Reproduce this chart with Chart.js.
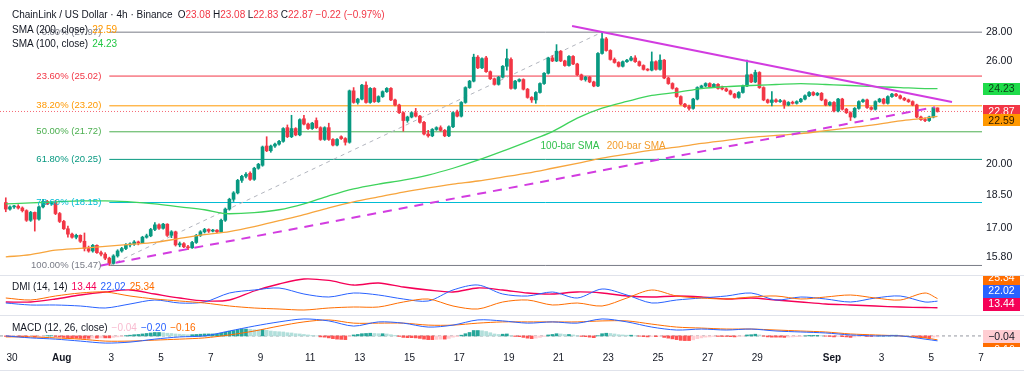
<!DOCTYPE html>
<html>
<head>
<meta charset="utf-8">
<title>ChainLink / US Dollar 4h</title>
<script src="https://cdn.jsdelivr.net/npm/chart.js@4.4.1/dist/chart.umd.min.js"></script>
<style>
  html, body { margin: 0; padding: 0; background: #fff; }
  #wrap { position: relative; width: 1024px; height: 377px; overflow: hidden; font-family: "Liberation Sans", Arial, sans-serif; }
  .pane { position: absolute; left: 0; width: 1024px; }
  .sep { position: absolute; left: 0; width: 1024px; height: 1px; background: #e0e3eb; }
  .leg { position: absolute; left: 12px; font-size: 10px; line-height: 12px; color: #131722; white-space: nowrap; }
  .leg .it { margin-left: 4px; }
  .leg .ohlc { margin-left: 2.5px; }
  .leg em { font-style: normal; }
</style>
</head>
<body>
<div id="wrap">
  <div class="pane" style="top:0;height:275px"><canvas id="pricePane"></canvas></div>
  <div class="sep" style="top:275px"></div>
  <div class="pane" style="top:276px;height:39px"><canvas id="dmiPane"></canvas></div>
  <div class="sep" style="top:315px"></div>
  <div class="pane" style="top:316px;height:61px"><canvas id="macdPane"></canvas></div>
  <div class="sep" style="top:370px"></div>

  <div class="leg" style="top:9px">ChainLink / US Dollar · 4h · Binance<span class="ohlc" style="margin-left:5px">O<em style="color:#f23645">23.08</em></span><span class="ohlc">H<em style="color:#f23645">23.08</em></span><span class="ohlc">L<em style="color:#f23645">22.83</em></span><span class="ohlc">C<em style="color:#f23645">22.87</em></span><span class="ohlc" style="color:#f23645">−0.22 (−0.97%)</span></div>
  <div class="leg" style="top:24px">SMA (200, close)<span class="it" style="color:#ff9800">22.59</span></div>
  <div class="leg" style="top:38px">SMA (100, close)<span class="it" style="color:#22c744">24.23</span></div>
  <div class="leg" style="top:281px">DMI (14, 14)<span class="it" style="color:#f50057">13.44</span><span class="it" style="color:#2962ff">22.02</span><span class="it" style="color:#ff6d00">25.34</span></div>
  <div class="leg" style="top:322px">MACD (12, 26, close)<span class="it" style="color:#f8bbd0">−0.04</span><span class="it" style="color:#2962ff">−0.20</span><span class="it" style="color:#ff6d00">−0.16</span></div>
</div>

<script>
// time axis is in hours counted from Jul 30 00:00
const firstCandleHour = -6;
const candleStepHours = 4;

// 4h candles [open, high, low, close]
const ohlc = [
  [18.15,18.37,17.73,17.85],[17.85,18.00,17.80,17.95],[17.95,18.02,17.88,17.98],[17.98,18.05,17.85,17.90],[17.90,17.95,17.72,17.78],
  [17.78,17.82,17.30,17.35],[17.35,17.75,17.30,17.70],[17.70,17.72,16.88,17.40],[17.40,18.00,17.35,17.95],[17.95,18.30,17.90,18.20],
  [18.20,18.25,18.05,18.10],[18.10,18.20,18.02,18.15],[18.15,18.25,17.60,17.65],[17.65,17.70,17.25,17.30],[17.30,17.35,16.95,16.98],
  [16.98,17.10,16.62,16.75],[16.75,16.80,16.58,16.62],[16.62,16.75,16.55,16.70],[16.70,16.72,16.40,16.45],[16.45,16.80,16.05,16.15],
  [16.15,16.25,16.00,16.05],[16.05,16.32,16.00,16.28],[16.28,16.30,15.95,15.98],[15.98,16.05,15.85,15.92],[15.92,15.98,15.70,15.76],
  [15.76,15.80,15.47,15.55],[15.55,15.90,15.52,15.85],[15.85,16.10,15.80,16.05],[16.05,16.20,16.00,16.15],[16.15,16.35,16.10,16.30],
  [16.30,16.38,16.22,16.33],[16.33,16.48,16.28,16.42],[16.42,16.46,16.30,16.38],[16.38,16.66,16.35,16.62],[16.62,16.75,16.58,16.68],
  [16.68,17.00,16.64,16.95],[16.95,17.25,16.90,17.15],[17.15,17.20,16.95,17.00],[17.00,17.22,16.96,17.18],[17.18,17.20,16.65,16.70],
  [16.70,16.90,16.60,16.85],[16.85,16.88,16.25,16.30],[16.30,16.42,16.22,16.35],[16.35,16.40,16.18,16.22],[16.22,16.28,16.10,16.18],
  [16.18,16.45,16.15,16.40],[16.40,16.74,16.36,16.70],[16.70,16.90,16.65,16.85],[16.85,17.00,16.80,16.95],[16.95,16.98,16.82,16.88],
  [16.88,16.96,16.84,16.92],[16.92,16.95,16.80,16.85],[16.85,17.40,16.82,17.35],[17.35,17.90,17.30,17.85],[17.85,18.35,17.80,18.30],
  [18.30,18.66,18.20,18.60],[18.60,19.25,18.55,19.20],[19.20,19.45,19.10,19.40],[19.40,19.58,19.32,19.50],[19.55,19.62,19.20,19.25],
  [19.25,19.85,19.20,19.80],[19.80,20.05,19.75,20.00],[19.95,20.95,19.90,20.90],[20.95,21.45,20.65,20.70],[20.70,21.00,20.62,20.95],
  [20.95,21.10,20.88,21.05],[21.05,21.25,21.00,21.20],[21.20,21.95,21.15,21.90],[21.95,22.10,21.40,21.45],[21.45,22.65,21.40,21.90],
  [21.90,21.95,21.50,21.55],[21.55,22.45,21.50,22.40],[22.45,22.65,22.10,22.15],[22.15,22.20,21.85,21.90],[21.90,22.25,21.85,22.20],
  [22.35,22.50,21.90,21.95],[21.95,22.00,21.25,21.30],[21.30,22.00,21.25,21.95],[21.95,22.20,21.25,21.30],[21.30,21.35,20.95,21.00],
  [21.00,21.35,20.96,21.30],[21.45,21.50,21.30,21.35],[21.35,21.40,21.00,21.15],[21.15,24.15,21.10,24.10],[24.10,24.30,23.35,23.40],
  [23.40,23.65,23.30,23.60],[23.60,24.50,23.55,24.45],[24.45,24.65,23.35,23.40],[23.40,24.30,23.35,24.25],[24.25,24.30,23.40,23.45],
  [23.45,23.80,23.40,23.75],[23.75,24.10,23.70,24.05],[24.05,24.30,24.00,24.25],[24.25,24.30,23.50,23.55],[23.55,23.60,23.20,23.25],
  [23.25,23.30,22.75,22.80],[22.80,22.85,21.75,22.35],[22.35,22.60,22.25,22.55],[22.55,22.85,22.50,22.80],[22.80,23.05,22.55,22.60],
  [22.60,22.65,22.20,22.25],[22.25,22.30,21.55,21.60],[21.60,21.80,21.42,21.50],[21.50,21.90,21.45,21.85],[21.85,22.00,21.80,21.95],
  [21.95,22.05,21.75,21.80],[21.80,21.85,21.45,21.50],[21.50,22.05,21.45,22.00],[22.00,22.85,21.95,22.80],[22.85,22.95,22.55,22.60],
  [22.60,23.45,22.55,23.40],[23.40,24.35,23.35,24.30],[24.30,24.75,24.25,24.70],[24.70,26.45,24.65,26.25],[26.25,26.35,25.50,25.55],
  [25.55,26.20,25.50,26.15],[26.20,26.30,25.25,25.30],[25.30,25.35,24.80,24.85],[24.85,24.90,24.45,24.50],[24.50,25.00,24.45,24.95],
  [24.95,25.70,24.90,25.65],[25.65,26.80,25.40,26.15],[26.10,26.20,24.20,24.25],[24.25,24.75,24.20,24.70],[24.70,24.85,24.65,24.80],
  [24.80,24.85,24.15,24.20],[24.20,24.25,23.65,23.70],[23.70,23.75,23.40,23.55],[23.55,24.05,23.35,24.00],[24.00,24.60,23.95,24.55],
  [24.55,25.25,24.50,25.20],[25.20,26.25,25.15,26.20],[26.20,26.35,25.95,26.00],[26.00,27.10,25.95,26.65],[26.65,26.70,25.95,26.00],
  [26.00,26.05,25.65,25.70],[25.70,26.35,25.65,26.30],[26.30,26.35,25.75,25.80],[25.80,25.85,25.05,25.10],[25.10,25.15,24.75,24.80],
  [24.80,25.00,24.70,24.95],[24.95,25.00,24.60,24.65],[24.65,24.70,24.35,24.40],[24.40,26.55,24.35,26.50],[26.50,27.97,26.45,27.50],
  [27.50,27.60,26.65,26.70],[26.70,26.75,26.05,26.10],[26.10,26.20,25.85,25.90],[25.90,25.95,25.60,25.65],[25.65,26.00,25.60,25.95],
  [25.95,26.10,25.90,26.05],[26.05,26.30,26.00,26.20],[26.20,26.35,25.90,25.95],[25.95,26.00,25.65,25.70],[25.70,25.75,25.40,25.45],
  [25.45,25.50,25.35,25.40],[25.40,26.60,25.35,25.95],[25.95,26.00,25.40,25.45],[25.45,26.40,25.40,26.05],[26.05,26.10,24.85,24.90],
  [24.90,24.95,24.50,24.55],[24.55,24.60,24.20,24.25],[24.25,24.30,23.70,23.75],[23.75,23.80,23.25,23.30],[23.30,23.35,23.10,23.15],
  [23.15,23.25,22.95,23.05],[23.05,23.65,23.00,23.60],[23.60,24.35,23.55,24.30],[24.30,24.45,24.25,24.40],[24.40,24.60,24.35,24.55],
  [24.55,24.60,24.30,24.35],[24.35,24.55,24.30,24.50],[24.50,24.55,24.20,24.25],[24.25,24.40,24.15,24.22],[24.22,24.28,24.05,24.10],
  [24.10,24.15,23.85,23.90],[23.90,23.95,23.65,23.70],[23.70,24.05,23.65,24.00],[24.00,24.45,23.95,24.40],[24.40,26.05,24.35,25.10],
  [25.10,25.15,24.60,24.65],[24.65,25.40,24.60,25.25],[25.25,25.30,24.25,24.30],[24.30,24.35,23.50,23.55],[23.55,23.60,23.35,23.40],
  [23.40,24.05,23.20,23.55],[23.55,23.62,23.40,23.45],[23.45,23.58,23.40,23.50],[23.50,23.55,23.05,23.25],[23.25,23.45,23.20,23.40],
  [23.40,23.48,23.30,23.35],[23.35,23.50,23.30,23.45],[23.45,23.65,23.40,23.60],[23.60,23.85,23.55,23.80],[23.80,24.05,23.75,24.00],
  [24.00,24.05,23.80,23.85],[23.85,24.00,23.80,23.95],[23.95,24.00,23.50,23.55],[23.55,23.60,23.20,23.25],[23.25,23.45,23.20,23.40],
  [23.40,23.45,22.85,22.90],[22.90,23.65,22.85,23.60],[23.60,23.65,22.95,23.00],[23.00,23.05,22.75,22.80],[22.80,22.85,22.35,22.55],
  [22.55,23.10,22.50,23.05],[23.05,23.50,23.00,23.45],[23.45,23.60,23.40,23.55],[23.55,23.60,23.05,23.10],[23.10,23.15,22.95,23.00],
  [23.00,23.50,22.95,23.45],[23.45,23.65,23.40,23.60],[23.60,23.65,23.30,23.35],[23.35,23.80,23.30,23.75],[23.75,23.95,23.70,23.90],
  [23.90,23.95,23.75,23.80],[23.80,23.85,23.60,23.65],[23.65,23.70,23.50,23.55],[23.55,23.60,23.40,23.45],[23.45,23.50,23.20,23.25],
  [23.25,23.30,22.50,22.55],[22.55,22.60,22.35,22.40],[22.40,22.50,22.28,22.35],[22.35,22.60,22.30,22.55],[22.55,23.10,22.50,23.09],
  [23.08,23.08,22.83,22.87]
];

// indicator lines, read once per day (candle index of each reading)
const sampleCandle = [0,6,12,18,24,30,36,42,48,54,60,66,72,78,84,90,96,102,108,114,120,126,132,138,144,150,156,162,168,174,180,186,192,198,204,210,216,222,225];
const sma100 = [18.09,18.13,18.18,18.23,18.23,18.18,18.09,17.95,17.82,17.64,17.69,17.82,18.09,18.46,18.79,19.02,19.21,19.46,19.80,20.21,20.68,21.19,21.73,22.49,23.06,23.46,23.82,24.00,24.24,24.36,24.43,24.49,24.55,24.49,24.43,24.36,24.30,24.24,24.23];
const sma200 = [15.81,15.90,16.08,16.16,16.24,16.32,16.40,16.57,16.73,16.86,17.07,17.33,17.60,17.91,18.18,18.41,18.64,18.84,19.02,19.17,19.36,19.56,19.80,20.05,20.31,20.52,20.73,20.89,21.09,21.25,21.41,21.52,21.62,21.79,21.95,22.12,22.33,22.49,22.59];
const adx = [20.9,20.9,24.8,30.0,33.9,36.5,31.3,26.1,22.2,23.5,35.2,44.3,50.8,48.9,43.0,45.6,40.4,36.5,33.9,39.1,36.5,32.6,31.3,33.9,32.6,28.7,27.4,28.7,27.4,24.8,26.1,23.5,20.9,18.3,17.0,15.7,14.4,13.75,13.44];
const plusDI = [19.6,17.0,17.0,15.7,13.1,18.3,23.5,19.6,20.9,32.6,36.5,39.1,31.3,27.4,32.6,30.0,24.8,22.2,36.5,43.0,31.3,28.7,33.9,26.1,37.8,30.0,19.6,23.5,26.1,28.7,32.6,23.5,27.4,24.8,20.9,26.1,28.7,20.9,22.02];
const minusDI = [26.1,23.5,28.7,32.6,33.9,28.7,24.8,22.2,19.6,15.7,13.1,11.8,10.5,13.1,14.4,14.4,20.9,24.8,15.7,11.8,20.9,23.5,17.0,19.6,15.7,26.1,36.5,28.7,26.1,24.8,27.4,28.7,24.8,27.4,30.0,26.1,23.5,32.6,25.34];
const macdLine = [0.00,-0.08,-0.13,-0.21,-0.29,-0.25,-0.13,-0.04,0.00,0.20,0.40,0.57,0.69,0.61,0.40,0.57,0.52,0.36,0.44,0.65,0.61,0.52,0.57,0.52,0.69,0.57,0.36,0.24,0.28,0.24,0.28,0.20,0.16,0.12,0.04,0.00,0.00,-0.13,-0.20];
const macdSignal = [-0.04,-0.04,-0.08,-0.13,-0.21,-0.21,-0.17,-0.13,-0.08,0.04,0.20,0.40,0.57,0.65,0.52,0.52,0.52,0.44,0.44,0.52,0.57,0.57,0.57,0.57,0.61,0.61,0.48,0.36,0.32,0.28,0.28,0.24,0.20,0.16,0.08,0.04,0.00,-0.08,-0.16];

// MACD histogram, one bar per candle
const macdHist = [
  -0.02,-0.03,-0.02,-0.03,-0.04,-0.05,-0.04,-0.05,-0.03,-0.01,
  0.01,0.01,-0.02,-0.04,-0.06,-0.08,-0.09,-0.09,-0.10,-0.10,
  -0.10,-0.09,-0.09,-0.08,-0.08,-0.08,-0.06,-0.04,-0.02,0.01,
  0.03,0.05,0.06,0.08,0.10,0.12,0.14,0.14,0.13,0.11,
  0.10,0.08,0.07,0.06,0.05,0.05,0.06,0.07,0.08,0.08,
  0.08,0.08,0.11,0.15,0.19,0.22,0.26,0.28,0.28,0.27,
  0.25,0.24,0.25,0.23,0.20,0.18,0.17,0.16,0.13,0.12,
  0.09,0.08,0.06,0.04,0.02,0.00,-0.04,-0.05,-0.08,-0.11,
  -0.13,-0.14,-0.15,-0.02,0.04,0.06,0.09,0.10,0.11,0.10,
  0.09,0.09,0.08,0.05,0.02,-0.02,-0.06,-0.07,-0.07,-0.08,
  -0.10,-0.13,-0.15,-0.15,-0.14,-0.13,-0.13,-0.10,-0.05,-0.03,
  0.03,0.09,0.14,0.22,0.22,0.21,0.18,0.13,0.08,0.06,
  0.07,0.08,0.01,-0.02,-0.03,-0.06,-0.09,-0.11,-0.09,-0.06,
  -0.02,0.04,0.06,0.09,0.08,0.06,0.06,0.04,0.01,-0.02,
  -0.03,-0.05,-0.07,0.01,0.09,0.11,0.10,0.08,0.05,0.04,
  0.03,0.03,0.01,-0.01,-0.03,-0.04,-0.02,-0.03,-0.01,-0.06,
  -0.09,-0.12,-0.15,-0.18,-0.19,-0.19,-0.16,-0.11,-0.08,-0.05,
  -0.04,-0.02,-0.02,-0.02,-0.02,-0.03,-0.04,-0.03,-0.01,0.04,
  0.05,0.07,0.04,-0.01,-0.04,-0.05,-0.05,-0.05,-0.06,-0.05,
  -0.04,-0.03,-0.02,0.00,0.02,0.02,0.02,0.01,-0.01,-0.02,
  -0.04,-0.02,-0.03,-0.04,-0.06,-0.04,-0.02,-0.01,-0.02,-0.02,
  -0.01,0.01,0.01,0.02,0.03,0.03,0.02,0.01,0.00,-0.01,
  -0.04,-0.06,-0.07,-0.07,-0.05,-0.04
];

// fibonacci retracement, anchored on the Aug 3 low and the Aug 22 high
const fibPct = ['0.00%','23.60%','38.20%','50.00%','61.80%','78.60%','100.00%'];
const fibLevel = [27.97,25.02,23.20,21.72,20.25,18.15,15.47];
const fibAnchorHours = [94, 570];

// trend lines as [hour, price] pairs
const resistanceLine = [[541, 28.41], [908, 23.43]];
const supportLine = [[85, 15.46], [891.6, 23.12]];

const smaNotes = ['100-bar SMA', '200-bar SMA'];
const smaNoteHours = [539, 603];
const smaNotePrice = 20.95;

const priceTicks = [28, 26, 20, 18.5, 17, 15.8];
const xTickHours = [0,48,96,144,192,240,288,336,384,432,480,528,576,624,672,720,792,840,888,936];
const xTickLabels = ['30','Aug','3','5','7','9','11','13','15','17','19','21','23','25','27','29','Sep','3','5','7'];

// ---------------------------------------------------------------
const FONT = '"Liberation Sans", Arial, sans-serif';
Chart.defaults.font.family = FONT;
Chart.defaults.animation = false;
Chart.defaults.responsive = true;
Chart.defaults.maintainAspectRatio = false;
Chart.defaults.plugins.legend.display = false;
Chart.defaults.plugins.tooltip.enabled = false;

const xMin = -11.6, xMax = 937;
const up = '#089981', down = '#f23645';
const green100 = '#3fd35c', orange200 = '#f7a53d', magenta = '#d23ce0';
const fibColor = ['#787b86','#f23645','#ff9800','#4caf50','#089981','#00bcd4','#787b86'];

const hourOf = i => firstCandleHour + i * candleStepHours;
const lastClose = ohlc[ohlc.length - 1][3];
const candleColor = ohlc.map(c => c[3] >= c[0] ? up : down);
const sampled = arr => sampleCandle.map((k, j) => ({ x: hourOf(k), y: arr[j] }));
const seg = pts => pts.map(p => ({ x: p[0], y: p[1] }));
const fmt = v => (v < 0 ? '\u2212' : '') + Math.abs(v).toFixed(2);

function line(data, color, width, extra) {
  return Object.assign({ type: 'line', data, borderColor: color, borderWidth: width, pointRadius: 0, fill: false }, extra);
}

function hiddenX() {
  return { type: 'linear', min: xMin, max: xMax, offset: false, display: false };
}

function sideAxis(extra) {
  return Object.assign({
    position: 'right',
    grid: { display: false, drawTicks: false },
    border: { display: false },
    afterFit: s => { s.width = 42; s.paddingTop = 0; s.paddingBottom = 0; }
  }, extra);
}

// value badges on the right scale, pushed apart where they collide
function drawBadges(chart, items, gap, h, bottomMargin) {
  const { ctx, chartArea, scales: { y } } = chart;
  const pts = items.map(it => Object.assign({ py: y.getPixelForValue(it.value) }, it)).sort((a, b) => a.py - b.py);
  for (let i = 1; i < pts.length; i++) pts[i].py = Math.max(pts[i].py, pts[i - 1].py + gap);
  if (bottomMargin != null) {
    let lim = chartArea.bottom - bottomMargin;
    for (let i = pts.length - 1; i >= 0; i--) {
      if (pts[i].py > lim) pts[i].py = lim;
      lim = pts[i].py - gap;
    }
  }
  ctx.save();
  ctx.beginPath();
  ctx.rect(chartArea.right, chartArea.top, chart.width - chartArea.right, chartArea.bottom - chartArea.top);
  ctx.clip();
  ctx.font = '10.5px ' + FONT;
  ctx.textAlign = 'center';
  ctx.textBaseline = 'middle';
  pts.forEach(p => {
    ctx.fillStyle = p.bg;
    ctx.fillRect(chartArea.right + 1, Math.round(p.py - h / 2), 37, h);
    ctx.fillStyle = p.fg;
    ctx.fillText(fmt(p.value), chartArea.right + 19.5, p.py + 0.5);
  });
  ctx.restore();
}

const priceDecor = {
  id: 'priceDecor',
  afterDatasetsDraw(chart) {
    const { ctx, scales: { x, y } } = chart;
    ctx.save();
    ctx.font = '9.5px ' + FONT;
    ctx.textBaseline = 'middle';
    ctx.textAlign = 'right';
    const lx = x.getPixelForValue(fibAnchorHours[0]) - 8;
    fibLevel.forEach((lv, i) => {
      ctx.fillStyle = fibColor[i];
      ctx.fillText(fibPct[i] + ' (' + lv.toFixed(2) + ')', lx, y.getPixelForValue(lv));
    });
    ctx.textAlign = 'center';
    ctx.font = '10px ' + FONT;
    smaNotes.forEach((t, i) => {
      ctx.fillStyle = i === 0 ? '#2fbf4a' : '#f39c2a';
      ctx.fillText(t, x.getPixelForValue(smaNoteHours[i]), y.getPixelForValue(smaNotePrice));
    });
    ctx.restore();
  },
  afterDraw(chart) {
    drawBadges(chart, [
      { value: sma100[sma100.length - 1], bg: '#1fdc4a', fg: '#0c3d16' },
      { value: lastClose, bg: '#f23645', fg: '#ffffff' },
      { value: sma200[sma200.length - 1], bg: '#ff9800', fg: '#2a1a00' }
    ], 9, 12, null);
  }
};

const dmiDecor = {
  id: 'dmiDecor',
  afterDraw(chart) {
    drawBadges(chart, [
      { value: adx[adx.length - 1], bg: '#f50057', fg: '#ffffff' },
      { value: plusDI[plusDI.length - 1], bg: '#2962ff', fg: '#ffffff' },
      { value: minusDI[minusDI.length - 1], bg: '#ff6d00', fg: '#ffffff' }
    ], 13, 13, 11);
  }
};

const macdDecor = {
  id: 'macdDecor',
  afterDraw(chart) {
    drawBadges(chart, [
      { value: macdHist[macdHist.length - 1], bg: '#ffcdd2', fg: '#131722' },
      { value: macdSignal[macdSignal.length - 1], bg: '#ff6d00', fg: '#ffffff' },
      { value: macdLine[macdLine.length - 1], bg: '#2962ff', fg: '#ffffff' }
    ], 13, 13, null);
  }
};

// ---- price pane
const priceSets = [
  { type: 'bar', data: ohlc.map((c, i) => ({ x: hourOf(i), y: [c[2], c[1]] })), backgroundColor: candleColor, barThickness: 1, grouped: false, order: 6 },
  { type: 'bar', data: ohlc.map((c, i) => ({ x: hourOf(i), y: [c[0], c[3]] })), backgroundColor: candleColor, barThickness: 3, minBarLength: 1, grouped: false, order: 5 },
  line([{ x: xMin, y: lastClose }, { x: xMax, y: lastClose }], 'rgba(242,54,69,0.75)', 1, { borderDash: [1, 2], order: 8 }),
  line(seg([[fibAnchorHours[0], fibLevel[6]], [fibAnchorHours[1], fibLevel[0]]]), '#b2b5be', 1, { borderDash: [4, 4], order: 7 }),
  line(sampled(sma100), green100, 1.3, { cubicInterpolationMode: 'monotone', order: 2 }),
  line(sampled(sma200), orange200, 1.3, { cubicInterpolationMode: 'monotone', order: 2 }),
  line(seg(resistanceLine), magenta, 2, { order: 1 }),
  line(seg(supportLine), magenta, 2, { borderDash: [9, 7], order: 1 })
];
fibLevel.forEach((lv, i) => {
  priceSets.push(line([{ x: fibAnchorHours[0], y: lv }, { x: xMax, y: lv }], fibColor[i], 1, { order: 9 }));
});

new Chart(document.getElementById('pricePane'), {
  type: 'bar',
  data: { datasets: priceSets },
  options: {
    layout: { padding: 0 },
    scales: {
      x: hiddenX(),
      y: sideAxis({
        type: 'logarithmic', min: 15.10, max: 30.35,
        afterBuildTicks: s => { s.ticks = priceTicks.map(v => ({ value: v })); },
        ticks: { autoSkip: false, padding: 4, color: '#131722', font: { size: 10.5 }, callback: v => Number(v).toFixed(2) }
      })
    }
  },
  plugins: [priceDecor]
});

// ---- DMI pane
new Chart(document.getElementById('dmiPane'), {
  type: 'line',
  data: {
    datasets: [
      line(sampled(minusDI), '#ff6d00', 1, { tension: 0.3 }),
      line(sampled(plusDI), '#2962ff', 1, { tension: 0.3 }),
      line(sampled(adx), '#f50057', 1.3, { tension: 0.3 })
    ]
  },
  options: {
    layout: { padding: 0 },
    scales: { x: hiddenX(), y: sideAxis({ min: 4, max: 54.7, ticks: { display: false } }) }
  },
  plugins: [dmiDecor]
});

// ---- MACD pane
const histColor = macdHist.map((v, i) => {
  const prev = i > 0 ? macdHist[i - 1] : v;
  if (v >= 0) return v >= prev ? '#26a69a' : '#b2dfdb';
  return v <= prev ? '#ff5252' : '#ffcdd2';
});

new Chart(document.getElementById('macdPane'), {
  type: 'bar',
  data: {
    datasets: [
      { type: 'bar', data: macdHist.map((v, i) => ({ x: hourOf(i), y: v })), backgroundColor: histColor, barThickness: 3, grouped: false, order: 5 },
      line([{ x: xMin, y: 0 }, { x: xMax, y: 0 }], '#9598a1', 1, { borderDash: [3, 3], order: 6 }),
      line(sampled(macdSignal), '#ff6d00', 1, { tension: 0.3, order: 2 }),
      line(sampled(macdLine), '#2962ff', 1, { tension: 0.3, order: 1 })
    ]
  },
  options: {
    layout: { padding: { bottom: 7 } },
    scales: {
      x: {
        type: 'linear', min: xMin, max: xMax, offset: false, position: 'bottom',
        grid: { display: false, drawTicks: false },
        border: { display: false },
        afterBuildTicks: s => { s.ticks = xTickHours.map(v => ({ value: v })); },
        afterFit: s => { s.height = 23; s.paddingLeft = 0; s.paddingRight = 0; },
        ticks: {
          autoSkip: false, maxRotation: 0, padding: 5, color: '#131722',
          font: c => ({ size: 10, weight: /^[A-Z]/.test(xTickLabels[c.index] || '') ? 'bold' : 'normal' }),
          callback: (v, i) => xTickLabels[i]
        }
      },
      y: sideAxis({ min: -0.45, max: 0.81, ticks: { display: false } })
    }
  },
  plugins: [macdDecor]
});
</script>
</body>
</html>
